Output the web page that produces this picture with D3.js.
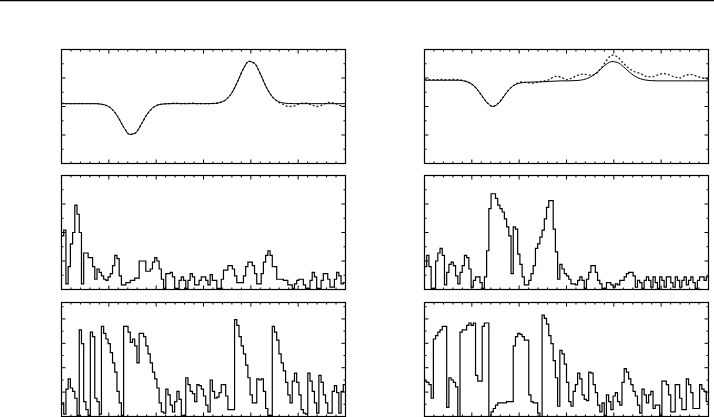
<!DOCTYPE html>
<html><head><meta charset="utf-8">
<script src="https://cdn.jsdelivr.net/npm/d3@7"></script>
<style>html,body{margin:0;padding:0;background:#fff;overflow:hidden} svg{display:block}</style>
</head><body>
<script>
// ---- data ----
const lineX = [0,0.02,0.04,0.06,0.08,0.10,0.12,0.14,0.16,0.18,0.20,0.22,0.24,0.26,0.28,0.30,0.32,0.34,0.36,0.38,0.40,0.42,0.44,0.46,0.48,0.50,0.52,0.54,0.56,0.58,0.60,0.62,0.64,0.66,0.68,0.70,0.72,0.74,0.76,0.78,0.80,0.82,0.84,0.86,0.88,0.90,0.92,0.94,0.96,0.98,1.00];
const topLeftSolid = [0.05,0.05,0.05,0.05,0.05,0.05,0.05, 0.04,0.015,-0.057,-0.195,-0.371,-0.49,-0.467,-0.319,-0.147,-0.029,0.027,0.045, 0.05,0.05,0.05,0.05,0.05,0.05,0.05,0.05, 0.055,0.072,0.124,0.242,0.437,0.657,0.792,0.755,0.573,0.352,0.185,0.097,0.063,0.053, 0.05,0.05,0.05,0.05,0.05,0.05,0.05,0.05,0.05,0.05];
const topLeftDotted = [0.06,0.05,0.05,0.05,0.05,0.05,0.05, 0.04,0.015,-0.057,-0.195,-0.371,-0.49,-0.467,-0.319,-0.147,-0.029,0.027,0.045, 0.05,0.06,0.05,0.05,0.06,0.05,0.05,0.05, 0.055,0.072,0.124,0.242,0.437,0.657,0.792,0.755,0.573,0.352,0.185,0.09,0.04,0.0, 0.01,0.05,0.06,0.03,0.0,0.03,0.07,0.06,0.02,0.0];
const topRightSolid = [0.46,0.46,0.46,0.46,0.46,0.46,0.46, 0.447,0.414,0.336,0.207,0.068,0.0,0.05,0.18,0.31,0.385,0.415,0.425, 0.43,0.43,0.435,0.44,0.445,0.45,0.45, 0.452,0.457,0.472,0.507,0.57,0.656,0.741,0.788,0.772,0.70,0.61,0.535,0.487,0.463,0.454, 0.45,0.45,0.45,0.45,0.45,0.45,0.45,0.45,0.45,0.45];
const topRightDotted = [0.47,0.47,0.47,0.475,0.47,0.475,0.47, 0.45,0.41,0.33,0.2,0.07,0.005,0.06,0.19,0.31,0.39,0.43,0.42, 0.41,0.43,0.45,0.47,0.53,0.52,0.47, 0.5,0.55,0.57,0.55,0.56,0.66,0.8,0.9,0.87,0.76,0.67,0.61,0.58,0.53,0.52, 0.55,0.58,0.56,0.52,0.5,0.55,0.56,0.53,0.5,0.48];

const midLeftHist = [47,52,5,20,40,50,74,66,50,5, 32,32,28,28,20,9,18,15,12,9, 8,11,14,21,30,27,12,4,4,6, 6,8,8,10,10,25,25,25,16,16, 18,24,28,25,18,9,1,14,14,15, 11,1,1,8,11,8,1,8,14,11, 4,4,8,11,11,8,4,13,8,8, 1,1,9,17,17,21,21,18,12,6, 6,6,12,20,24,24,21,14,5,5, 14,24,30,34,30,20,20,9,9,9, 8,8,4,4,1,5,8,9,9,4, 1,1,8,15,11,1,1,8,14,14, 9,2,2,9,15,12,5,6];
const midRightHist = [20,30,20,1,1,25,32,36,30,4, 15,22,24,21,12,5,15,21,30,28, 18,2,8,11,11,6,1,11,34,71, 84,84,80,74,71,68,62,55,47,14, 55,53,31,22,11,4,4,8,14,21, 36,40,46,52,62,72,78,78,53,33, 9,22,18,14,12,9,5,5,4,8, 11,8,1,9,15,21,21,15,8,5, 1,1,6,6,4,2,5,4,8,8, 11,14,15,15,12,2,8,6,1,8, 11,8,2,11,6,1,11,8,2,11, 11,6,2,11,8,2,8,11,4,8, 11,6,1,8,11,11,8,11];
const botLeftHist = [12,2,24,33,25,22,16,1,76,64, 13,6,1,74,70,16,13,2,79,73, 68,64,56,47,39,22,12,1,79,79, 74,65,68,62,47,73,73,70,62,55, 47,39,33,25,12,4,3,24,19,10, 4,13,22,15,1,1,34,28,22,20, 13,28,27,24,18,10,4,32,22,16, 17,21,28,28,18,6,6,6,85,80, 70,62,55,45,34,19,12,12,33,32, 33,22,7,1,1,79,74,67,55,47, 40,30,19,12,31,38,30,19,6,3, 2,38,31,22,12,3,36,30,19,12, 3,3,22,27,21,3,22,28];
const botRightHist = [31,30,28,16,68,71,74,76,79,79, 8,34,32,30,26,0,74,76,76,80, 82,80,82,36,31,31,79,82,82,0, 4,7,10,12,12,12,12,13,13,13, 62,70,73,72,70,67,67,19,13,12, 12,3,0,89,86,81,71,64,49,34, 9,58,55,46,30,13,9,22,28,38, 33,19,15,14,39,38,28,21,10,4, 12,1,19,13,6,18,21,13,10,30, 42,39,33,28,22,18,10,3,24,19, 12,19,22,7,10,10,1,31,31,28, 19,4,4,28,28,16,6,6,33,28, 21,7,7,7,28,24,22,13];

const xMinorTicks = [1,2,3,4,6,7,8,9,11,12,13,14,16,17,18,19,21,22,23,24,26,27,28,29].map(k=>k/30);
const xMajorTicks = [1/6,2/6,3/6,4/6,5/6];
const topMinorTicks = [-0.75,-0.25,0.25,0.75], topMajorTicks = [-0.5,0,0.5];
const midMinorTicks = [12.5,37.5,62.5,87.5], midMajorTicks = [25,50,75];
const botMinorTicks = [10.7,32.1,53.5,74.9,96.3], botMajorTicks = [21.4,42.8,64.2,85.6];

// ---- layout ----
const W = 714, H = 417;
const colX = [61.5, 424.5], pw = 284;
const rowY = [49.5, 175.5, 302.5], ph = 114;

const svg = d3.select("body").append("svg").attr("width", W).attr("height", H);
svg.append("line").attr("x1",0).attr("x2",W).attr("y1",0.5).attr("y2",0.5).attr("stroke","#000").attr("stroke-width",1.5);

const panels = [
  {r:0,c:0,type:"line",solid:topLeftSolid,dotted:topLeftDotted,dom:[-1,1],minor:topMinorTicks,major:topMajorTicks},
  {r:0,c:1,type:"line",solid:topRightSolid,dotted:topRightDotted,dom:[-1,1],minor:topMinorTicks,major:topMajorTicks},
  {r:1,c:0,type:"hist",vals:midLeftHist,dom:[0,100],minor:midMinorTicks,major:midMajorTicks},
  {r:1,c:1,type:"hist",vals:midRightHist,dom:[0,100],minor:midMinorTicks,major:midMajorTicks},
  {r:2,c:0,type:"hist",vals:botLeftHist,dom:[0,100],minor:botMinorTicks,major:botMajorTicks},
  {r:2,c:1,type:"hist",vals:botRightHist,dom:[0,100],minor:botMinorTicks,major:botMajorTicks}
];

panels.forEach((p,idx) => {
  const g = svg.append("g").attr("transform", `translate(${colX[p.c]},${rowY[p.r]})`);
  const y = d3.scaleLinear().domain(p.dom).range([ph,0]);
  const clipId = "clip"+idx;
  g.append("clipPath").attr("id",clipId).append("rect").attr("width",pw).attr("height",ph);
  const body = g.append("g").attr("clip-path",`url(#${clipId})`);
  if (p.type === "line") {
    const x = d3.scaleLinear().domain([0,1]).range([0,pw]);
    const ln = d3.line().x((d,i)=>x(lineX[i])).y(d=>y(d)).curve(d3.curveMonotoneX);
    body.append("path").attr("d", ln(p.dotted)).attr("fill","none").attr("stroke","#222").attr("stroke-width",1.3).attr("stroke-dasharray","2,2");
    body.append("path").attr("d", ln(p.solid)).attr("fill","none").attr("stroke","#000").attr("stroke-width",1);
  } else {
    const n = p.vals.length;
    const x = d3.scaleLinear().domain([0,n]).range([0,pw]);
    const pts = p.vals.map((v,i)=>[i,v]).concat([[n,p.vals[n-1]]]);
    const ln = d3.line().x(d=>x(d[0])).y(d=>y(d[1])).curve(d3.curveStepAfter);
    body.append("path").attr("d", ln(pts)).attr("fill","none").attr("stroke","#000").attr("stroke-width",1.2);
  }
  // ticks (inward, all four sides)
  const xs = d3.scaleLinear().domain([0,1]).range([0,pw]);
  const tk = g.append("g").attr("stroke","#000").attr("stroke-width",1);
  const drawX = (vals,len) => vals.forEach(v=>{
    tk.append("line").attr("x1",xs(v)).attr("x2",xs(v)).attr("y1",0).attr("y2",len);
    tk.append("line").attr("x1",xs(v)).attr("x2",xs(v)).attr("y1",ph).attr("y2",ph-len);
  });
  const drawY = (vals,len) => vals.forEach(v=>{
    tk.append("line").attr("y1",y(v)).attr("y2",y(v)).attr("x1",0).attr("x2",len);
    tk.append("line").attr("y1",y(v)).attr("y2",y(v)).attr("x1",pw).attr("x2",pw-len);
  });
  drawX(xMinorTicks,2); drawX(xMajorTicks,4);
  drawY(p.minor,2); drawY(p.major,4);
  g.append("rect").attr("width",pw).attr("height",ph).attr("fill","none").attr("stroke","#000").attr("stroke-width",1.2);
});
</script>
</body></html>
